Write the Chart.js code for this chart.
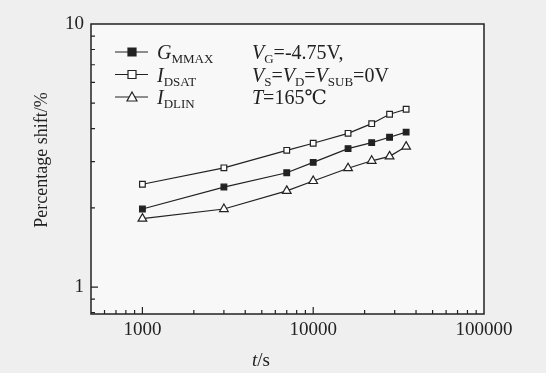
<!DOCTYPE html>
<html lang="en">
  <head>
    <meta charset="UTF-8" />
    <title>Percentage shift</title>
    <script src="https://cdn.jsdelivr.net/npm/chart.js@4.4.1/dist/chart.umd.min.js"></script>
    <style>
      html, body { margin: 0; padding: 0; background: #efefef; }
      #wrap { width: 546px; height: 373px; }
    </style>
  </head>
  <body>
    <div id="wrap"><canvas id="shiftChart" width="546" height="373"></canvas></div>

    <script>
      // stress time (s)
      const times = [1000, 3000, 7000, 10000, 16000, 22000, 28000, 35000];
      // percentage shift (%)
      const gmmax = [1.98, 2.40, 2.72, 2.98, 3.36, 3.54, 3.71, 3.88];
      const idsat = [2.46, 2.84, 3.31, 3.52, 3.84, 4.18, 4.54, 4.74];
      const idlin = [1.82, 1.98, 2.32, 2.53, 2.83, 3.02, 3.14, 3.42];
      const xTickLabels = [1000, 10000, 100000];
      const yTickLabels = [1, 10];

      const serif = "'Liberation Serif', 'DejaVu Serif', serif";
      const ink = "#222";

      function pts(ys) {
        return times.map((t, i) => ({ x: t, y: ys[i] }));
      }

      function series(label, ys, style, fill, radius) {
        return {
          label: label,
          data: pts(ys),
          borderColor: ink,
          borderWidth: 1.2,
          pointStyle: style,
          pointRadius: radius,
          pointBackgroundColor: fill,
          pointBorderColor: ink,
          pointBorderWidth: 1.2,
          tension: 0,
        };
      }

      // draw text runs: [text, italic, subscript]
      function runs(ctx, x, y, parts) {
        parts.forEach(([t, it, sub]) => {
          ctx.font = (it ? "italic " : "") + (sub ? "13px " : "20px ") + serif;
          ctx.fillText(t, x, sub ? y + 4 : y);
          x += ctx.measureText(t).width;
        });
      }

      function marker(ctx, kind, x, y) {
        ctx.lineWidth = 1.2;
        ctx.strokeStyle = ink;
        ctx.beginPath();
        if (kind === "tri") {
          ctx.moveTo(x, y - 5);
          ctx.lineTo(x + 5, y + 4);
          ctx.lineTo(x - 5, y + 4);
          ctx.closePath();
          ctx.fillStyle = "#fff";
        } else {
          ctx.rect(x - 4, y - 4, 8, 8);
          ctx.fillStyle = kind === "fill" ? ink : "#fff";
        }
        ctx.fill();
        ctx.stroke();
      }

      const paper = {
        id: "paper",
        beforeDraw(chart) {
          const { ctx, chartArea: a } = chart;
          ctx.save();
          ctx.fillStyle = "#efefef";
          ctx.fillRect(0, 0, chart.width, chart.height);
          ctx.fillStyle = "#f8f8f8";
          ctx.fillRect(a.left, a.top, a.right - a.left, a.bottom - a.top);
          ctx.restore();
        },
        afterDraw(chart) {
          const { ctx, chartArea: a, scales } = chart;
          ctx.save();
          ctx.strokeStyle = ink;
          ctx.lineWidth = 1.5;
          ctx.strokeRect(a.left, a.top, a.right - a.left, a.bottom - a.top);

          // inward ticks on bottom and left axes
          ctx.lineWidth = 1.2;
          ctx.beginPath();
          for (let e = 2; e <= 5; e++) {
            for (let m = 1; m <= 9; m++) {
              const v = m * Math.pow(10, e);
              if (v <= scales.x.min || v >= scales.x.max) continue;
              const px = scales.x.getPixelForValue(v);
              ctx.moveTo(px, a.bottom);
              ctx.lineTo(px, a.bottom - (m === 1 ? 7 : 4));
            }
          }
          for (let e = -1; e <= 1; e++) {
            for (let m = 1; m <= 9; m++) {
              const v = m * Math.pow(10, e);
              if (v <= scales.y.min || v >= scales.y.max) continue;
              const py = scales.y.getPixelForValue(v);
              ctx.moveTo(a.left, py);
              ctx.lineTo(a.left + (m === 1 ? 7 : 4), py);
            }
          }
          ctx.stroke();

          // legend
          const rows = [
            ["fill", [["G", true, false], ["MMAX", false, true]]],
            ["open", [["I", true, false], ["DSAT", false, true]]],
            ["tri", [["I", true, false], ["DLIN", false, true]]],
          ];
          rows.forEach(([kind, label], i) => {
            const y = 52 + i * 22.5;
            ctx.strokeStyle = ink;
            ctx.lineWidth = 1.2;
            ctx.beginPath();
            ctx.moveTo(115, y);
            ctx.lineTo(148, y);
            ctx.stroke();
            marker(ctx, kind, 132, y);
            ctx.fillStyle = ink;
            runs(ctx, 157, y + 7, label);
          });

          // conditions
          ctx.fillStyle = ink;
          runs(ctx, 252, 59, [["V", true, false], ["G", false, true], ["=-4.75V,", false, false]]);
          runs(ctx, 252, 81.5, [
            ["V", true, false], ["S", false, true], ["=", false, false],
            ["V", true, false], ["D", false, true], ["=", false, false],
            ["V", true, false], ["SUB", false, true], ["=0V", false, false],
          ]);
          runs(ctx, 252, 104, [["T", true, false], ["=165\u2103", false, false]]);

          // axis titles
          ctx.font = "18px " + serif;
          ctx.textAlign = "center";
          ctx.save();
          ctx.translate(47, 160);
          ctx.rotate(-Math.PI / 2);
          ctx.fillText("Percentage shift/%", 0, 0);
          ctx.restore();
          ctx.textAlign = "left";
          ctx.font = "italic 19px " + serif;
          const tw = ctx.measureText("t").width;
          ctx.font = "19px " + serif;
          const sw = ctx.measureText("/s").width;
          let x0 = 261 - (tw + sw) / 2;
          ctx.font = "italic 19px " + serif;
          ctx.fillText("t", x0, 366);
          ctx.font = "19px " + serif;
          ctx.fillText("/s", x0 + tw, 366);
          ctx.restore();
        },
      };

      function isLabel(list) {
        return (v) => (list.some((l) => Math.abs(l - v) < 1e-6 * l) ? String(v) : "");
      }

      const config = {
        type: "line",
        data: {
          datasets: [
            series("GMMAX", gmmax, "rect", ink, 4),
            series("IDSAT", idsat, "rect", "#fff", 4),
            series("IDLIN", idlin, "triangle", "#fff", 5),
          ],
        },
        options: {
          responsive: false,
          animation: false,
          layout: { padding: { top: 24, right: 62, left: 0, bottom: 0 } },
          plugins: { legend: { display: false }, tooltip: { enabled: false } },
          scales: {
            x: {
              type: "logarithmic",
              min: 500,
              max: 100000,
              afterFit: (s) => { s.height = 59; },
              grid: { display: false, drawTicks: false },
              border: { display: false },
              ticks: {
                autoSkip: false,
                maxRotation: 0,
                padding: 5,
                color: ink,
                font: { family: serif, size: 19 },
                callback: isLabel(xTickLabels),
              },
            },
            y: {
              type: "logarithmic",
              min: 0.79,
              max: 10,
              afterFit: (s) => { s.width = 91; },
              grid: { display: false, drawTicks: false },
              border: { display: false },
              ticks: {
                autoSkip: false,
                padding: 7,
                color: ink,
                font: { family: serif, size: 19 },
                callback: isLabel(yTickLabels),
              },
            },
          },
        },
        plugins: [paper],
      };

      const myChart = new Chart(document.getElementById("shiftChart"), config);
    </script>
  </body>
</html>
